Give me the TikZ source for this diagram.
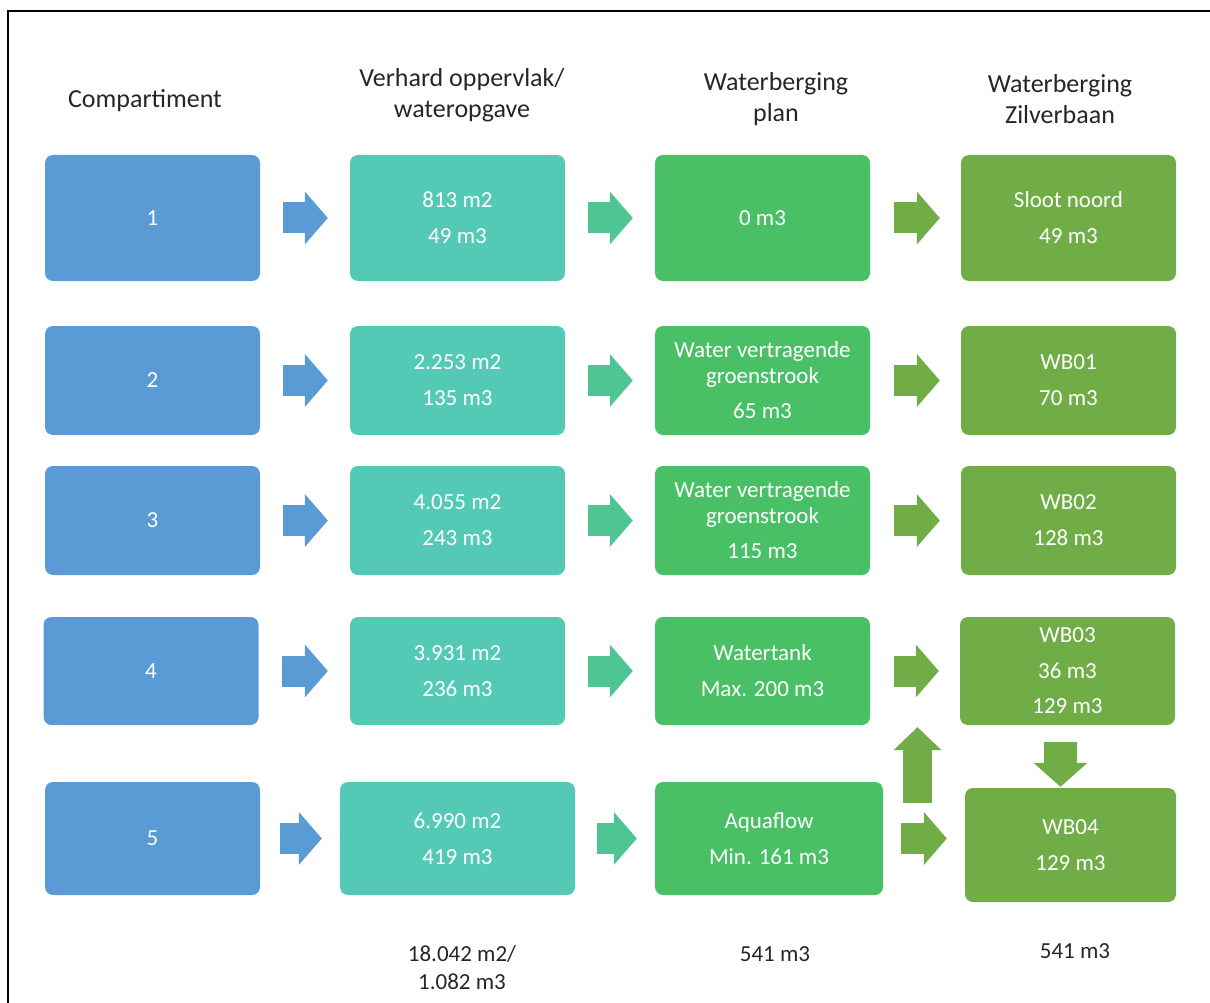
\documentclass[tikz,border=0pt]{standalone}
\usepackage{fontspec}
\setmainfont{Carlito}
\usetikzlibrary{arrows.meta}

\definecolor{kblauw}{HTML}{5B9BD5}
\definecolor{kturq}{HTML}{54CAB6}
\definecolor{kgroen}{HTML}{49BF66}
\definecolor{kolijf}{HTML}{70AD47}
\definecolor{pturq}{HTML}{4FC594}
\definecolor{ktekst}{HTML}{262626}

\tikzset{
	blok/.style={rectangle,rounded corners=8pt,inner sep=0pt,text=white,align=center,
		font=\fontsize{23}{26}\selectfont},
	kop/.style={align=center,text=ktekst,font=\fontsize{26}{31}\selectfont},
	som/.style={align=center,text=ktekst,font=\fontsize{23}{28}\selectfont},
	pijl/.style={draw=#1,line width=31pt,line cap=butt,
		-{Triangle[width=53pt,length=23pt,line width=0pt]}},
}

\begin{document}
\begin{tikzpicture}[x=1pt,y=-1pt]
	\useasboundingbox (0,0) rectangle (1210,1003);
	\draw[line width=1.6pt] (8,1003) -- (8,11) -- (1210,11);

	% koppen
	\node[kop] (k1) at (145,101) {Compartiment};
	\node[kop] (k2) at (462,95) {Verhard oppervlak/\\wateropgave};
	\node[kop] (k3) at (776,99) {Waterberging\\plan};
	\node[kop] (k4) at (1060,99) {Waterberging\\Zilverbaan};

	% rij 1
	\node[blok,fill=kblauw,minimum width=215pt,minimum height=126pt] (11) at (152.5,218) {1};
	\node[blok,fill=kturq,minimum width=215pt,minimum height=126pt] (12) at (457.5,218) {813 m2\\[10pt]49 m3};
	\node[blok,fill=kgroen,minimum width=215pt,minimum height=126pt] (13) at (762.5,218) {0 m3};
	\node[blok,fill=kolijf,minimum width=215pt,minimum height=126pt] (14) at (1068.5,218) {Sloot noord\\[10pt]49 m3};
	% rij 2
	\node[blok,fill=kblauw,minimum width=215pt,minimum height=109pt] (21) at (152.5,380.5) {2};
	\node[blok,fill=kturq,minimum width=215pt,minimum height=109pt] (22) at (457.5,380.5) {2.253 m2\\[10pt]135 m3};
	\node[blok,fill=kgroen,minimum width=215pt,minimum height=109pt] (23) at (762.5,380.5) {Water vertragende\\groenstrook\\[9pt]65 m3};
	\node[blok,fill=kolijf,minimum width=215pt,minimum height=109pt] (24) at (1068.5,380.5) {WB01\\[10pt]70 m3};
	% rij 3
	\node[blok,fill=kblauw,minimum width=215pt,minimum height=109pt] (31) at (152.5,520.5) {3};
	\node[blok,fill=kturq,minimum width=215pt,minimum height=109pt] (32) at (457.5,520.5) {4.055 m2\\[10pt]243 m3};
	\node[blok,fill=kgroen,minimum width=215pt,minimum height=109pt] (33) at (762.5,520.5) {Water vertragende\\groenstrook\\[9pt]115 m3};
	\node[blok,fill=kolijf,minimum width=215pt,minimum height=109pt] (34) at (1068.5,520.5) {WB02\\[10pt]128 m3};
	% rij 4
	\node[blok,fill=kblauw,minimum width=215pt,minimum height=108pt] (41) at (151,671) {4};
	\node[blok,fill=kturq,minimum width=215pt,minimum height=108pt] (42) at (457.5,671) {3.931 m2\\[10pt]236 m3};
	\node[blok,fill=kgroen,minimum width=215pt,minimum height=108pt] (43) at (762.5,671) {Watertank\\[10pt]Max. 200 m3};
	\node[blok,fill=kolijf,minimum width=215pt,minimum height=108pt] (44) at (1067.5,671) {WB03\\[10pt]36 m3\\[9pt]129 m3};
	% rij 5
	\node[blok,fill=kblauw,minimum width=215pt,minimum height=113pt] (51) at (152.5,838.5) {5};
	\node[blok,fill=kturq,minimum width=235pt,minimum height=113pt] (52) at (457.5,838.5) {6.990 m2\\[10pt]419 m3};
	\node[blok,fill=kgroen,minimum width=228pt,minimum height=113pt] (53) at (769,838.5) {Aquaflow\\[10pt]Min. 161 m3};
	\node[blok,fill=kolijf,minimum width=211pt,minimum height=114pt] (54) at (1070.5,845) {WB04\\[10pt]129 m3};

	% totalen
	\node[som] (t2) at (462,968) {18.042 m2/\\1.082 m3};
	\node[som] (t3) at (775,954) {541 m3};
	\node[som] (t4) at (1075,951) {541 m3};

	% pijlen
	\foreach \r in {1,2,3,4} {
		\draw[pijl=kblauw,shorten <=23pt,shorten >=22pt] (\r1.east) -- (\r1.east -| \r2.west);
		\draw[pijl=pturq,shorten <=23pt,shorten >=22pt] (\r2.east) -- (\r2.east -| \r3.west);
		\draw[pijl=kolijf,shorten <=24pt,shorten >=21pt] (\r3.east) -- (\r3.east -| \r4.west);
	}
	\draw[pijl=kblauw,shorten <=20pt,shorten >=18pt] (51.east) -- (51.east -| 52.west);
	\draw[pijl=pturq,shorten <=22pt,shorten >=18pt] (52.east) -- (52.east -| 53.west);
	\draw[pijl=kolijf,shorten <=18pt,shorten >=18pt] (53.east) -- (53.east -| 54.west);
	\coordinate (op) at (917.5,803);
	\draw[pijl=kolijf,line width=29pt,-{Triangle[width=48pt,length=23pt,line width=0pt]},shorten >=2pt] (op) -- (op |- 44.south);
	\coordinate (neer) at (1060.5,725);
	\draw[pijl=kolijf,line width=33pt,-{Triangle[width=54pt,length=24pt,line width=0pt]},shorten <=17pt,shorten >=1pt] (neer) -- (neer |- 54.north);
\end{tikzpicture}
\end{document}
